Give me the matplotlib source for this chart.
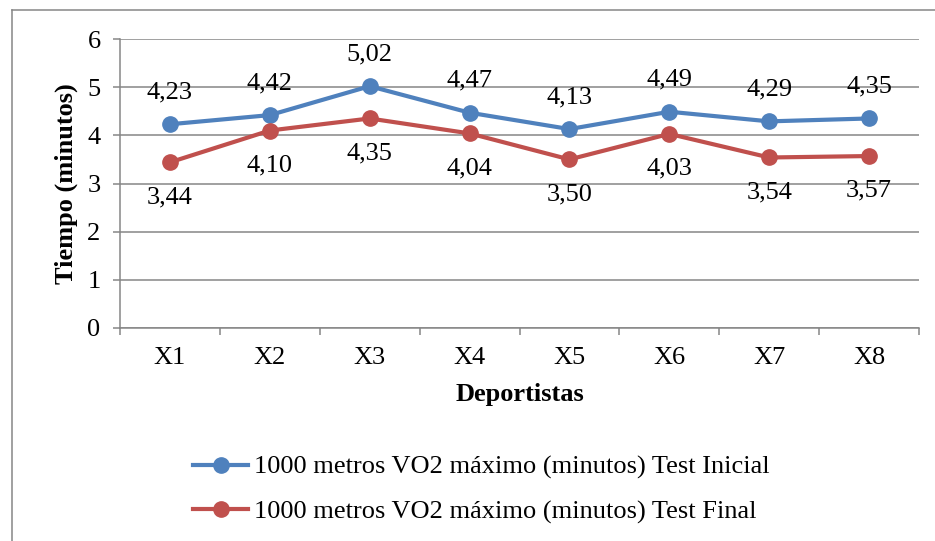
import matplotlib.pyplot as plt
from matplotlib.lines import Line2D

deportistas = ["X1", "X2", "X3", "X4", "X5", "X6", "X7", "X8"]
test_inicial = [4.23, 4.42, 5.02, 4.47, 4.13, 4.49, 4.29, 4.35]
test_final = [3.44, 4.10, 4.35, 4.04, 3.50, 4.03, 3.54, 3.57]
nombre_inicial = "1000 metros VO2 máximo (minutos) Test Inicial"
nombre_final = "1000 metros VO2 máximo (minutos) Test Final"

plt.rcParams["font.family"] = ["Liberation Serif", "DejaVu Serif"]
plt.rcParams["font.size"] = 19

azul = "#4F81BD"
rojo = "#C0504D"
gris = "#868686"

fig = plt.figure(figsize=(9.35, 5.41), dpi=100)
ax = fig.add_axes([120 / 935, 1 - 328 / 541, (919 - 120) / 935, (328 - 39) / 541])

x = list(range(len(deportistas)))
ax.plot(x, test_inicial, color=azul, lw=3, marker="o", ms=11, label=nombre_inicial)
ax.plot(x, test_final, color=rojo, lw=3, marker="o", ms=11, label=nombre_final)

# etiquetas de datos con coma decimal
for xi, v in zip(x, test_inicial):
    ax.annotate(f"{v:.2f}".replace(".", ","), (xi, v), xytext=(0, 23),
                textcoords="offset points", ha="center", va="center")
for xi, v in zip(x, test_final):
    ax.annotate(f"{v:.2f}".replace(".", ","), (xi, v), xytext=(0, -25),
                textcoords="offset points", ha="center", va="center")

ax.set_xlim(-0.5, len(deportistas) - 0.5)
ax.set_ylim(0, 6)
ax.set_yticks(range(7))
ax.set_xticks(x)
ax.set_xticklabels(deportistas)
ax.set_xticks([i - 0.5 for i in range(len(deportistas) + 1)], minor=True)
ax.tick_params(axis="x", which="major", length=0, pad=14)
ax.tick_params(axis="x", which="minor", length=5, width=1.1, color=gris, direction="out")
ax.tick_params(axis="y", length=5, width=1.1, color=gris, direction="out", pad=9)

ax.yaxis.grid(True, color=gris, lw=1.1)
ax.set_axisbelow(True)
for s in ["top", "right"]:
    ax.spines[s].set_visible(False)
for s in ["left", "bottom"]:
    ax.spines[s].set_color(gris)
    ax.spines[s].set_linewidth(1.1)

ax.set_xlabel("Deportistas", fontweight="bold", labelpad=10)
ax.set_ylabel("Tiempo (minutos)", fontweight="bold", labelpad=7)

fig.legend(loc="center left", bbox_to_anchor=(193 / 935, 1 - 489.5 / 541),
           frameon=False, borderpad=0, borderaxespad=0, handlelength=2.1,
           handletextpad=0.2, labelspacing=0.78)

# marco del gráfico
fig.add_artist(Line2D([12 / 935, 1], [1 - 10 / 541, 1 - 10 / 541], color=gris, lw=1.1))
fig.add_artist(Line2D([12 / 935, 12 / 935], [0, 1 - 10 / 541], color=gris, lw=1.1))

fig.savefig("out.png", dpi=100)
